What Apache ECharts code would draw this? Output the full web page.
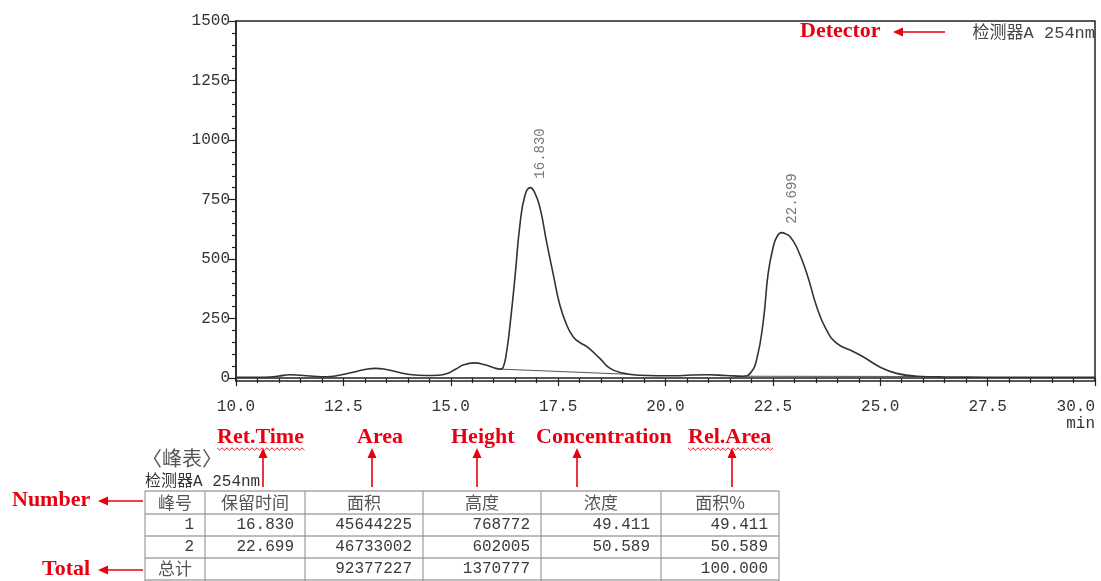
<!DOCTYPE html>
<html>
<head>
<meta charset="utf-8">
<script src="https://cdn.jsdelivr.net/npm/echarts@6/dist/echarts.min.js"></script>
<style>
html, body { margin: 0; padding: 0; background: #fff; }
#chart { width: 1101px; height: 581px; }
</style>
</head>
<body>
<div id="chart"></div>
<script>
// chromatogram trace (min, signal)
const traceTime = [10.0, 10.5, 10.8, 11.0, 11.25, 11.5, 11.8, 12.1, 12.4, 12.7, 13.0, 13.25, 13.5, 13.8, 14.1, 14.4, 14.7, 14.9, 15.1, 15.3, 15.55, 15.8, 16.0, 16.15, 16.22, 16.3, 16.38, 16.5, 16.61, 16.73, 16.85, 16.96, 17.08, 17.23, 17.39, 17.54, 17.7, 17.85, 18.0, 18.17, 18.47, 18.71, 19.0, 19.4, 19.8, 20.2, 20.6, 21.0, 21.4, 21.81, 21.97, 22.12, 22.28, 22.39, 22.51, 22.6, 22.7, 22.8, 22.9, 23.05, 23.29, 23.52, 23.75, 23.99, 24.3, 24.6, 24.99, 25.38, 25.85, 26.55, 27.5, 28.5, 30.0];
const traceSignal = [4, 4, 5, 9, 14, 12, 8, 6, 12, 24, 36, 41, 36, 24, 14, 11, 12, 18, 36, 56, 64, 56, 44, 38, 45, 110, 223, 433, 643, 769, 800, 777, 714, 573, 433, 307, 223, 174, 150, 132, 83, 41, 22, 12, 10, 10, 13, 14, 11, 8, 20, 76, 244, 440, 552, 596, 611, 606, 594, 552, 440, 300, 202, 146, 118, 90, 47, 20, 8, 5, 4, 4, 4];

// peaks
const peakRetTimes = [16.830, 22.699];
const peakApex = [800, 611];

// integration baselines
const baselineTimes = [[16.15, 19.3], [21.81, 25.9]];
const baselineLevels = [[38, 15], [8, 7]];

// axis ticks
const yMajorTicks = [0, 250, 500, 750, 1000, 1250, 1500];
const yMinorTicks = [50, 100, 150, 200, 300, 350, 400, 450, 550, 600, 650, 700, 800, 850, 900, 950, 1050, 1100, 1150, 1200, 1300, 1350, 1400, 1450];

// peak table
const tableHeader = ['峰号', '保留时间', '面积', '高度', '浓度', '面积%'];
const peakNo = ['1', '2'];
const retTimeCol = ['16.830', '22.699'];
const areaCol = ['45644225', '46733002'];
const heightCol = ['768772', '602005'];
const concCol = ['49.411', '50.589'];
const areaPctCol = ['49.411', '50.589'];
const totalRow = ['总计', '', '92377227', '1370777', '', '100.000'];

const RED = '#e60012';
const MONO = '"Liberation Mono", "Noto Sans CJK SC", monospace';
const CJK = '"Noto Sans CJK SC", "Liberation Mono", sans-serif';

const traceData = traceTime.map((t, i) => [t, traceSignal[i]]);
const peakData = peakRetTimes.map((t, i) => [t, peakApex[i]]);

const graphics = [];

function arrow(x1, y1, x2, y2) {
  // head at (x2, y2)
  const dx = x2 - x1, dy = y2 - y1;
  const len = Math.sqrt(dx * dx + dy * dy);
  const ux = dx / len, uy = dy / len;
  const hl = 10, hw = 4.5;
  const bx = x2 - ux * hl, by = y2 - uy * hl;
  graphics.push({
    type: 'line', silent: true,
    shape: { x1: x1, y1: y1, x2: bx, y2: by },
    style: { stroke: RED, lineWidth: 1.6 }
  });
  graphics.push({
    type: 'polygon', silent: true,
    shape: { points: [[x2, y2], [bx - uy * hw, by + ux * hw], [bx + uy * hw, by - ux * hw]] },
    style: { fill: RED }
  });
}

function redLabel(text, x, y, align) {
  graphics.push({
    type: 'text', silent: true, x: x, y: y,
    style: {
      text: text, fill: RED, font: 'bold 22px "Liberation Serif", serif',
      textAlign: align || 'left', textVerticalAlign: 'middle'
    }
  });
}

function squiggle(x1, x2, y) {
  const pts = [];
  let up = true;
  for (let x = x1; x <= x2; x += 2.5) {
    pts.push([x, y + (up ? -1.2 : 1.2)]);
    up = !up;
  }
  graphics.push({
    type: 'polyline', silent: true,
    shape: { points: pts },
    style: { stroke: RED, lineWidth: 0.9, fill: null }
  });
}

function plainText(text, x, y, font, align, color) {
  graphics.push({
    type: 'text', silent: true, x: x, y: y,
    style: {
      text: text, fill: color || '#3a3a3a', font: font,
      textAlign: align || 'left', textVerticalAlign: 'middle'
    }
  });
}

// detector label
plainText('检测器A 254nm', 1095, 33, '17px ' + MONO, 'right', '#444');
redLabel('Detector', 800, 31);
arrow(945, 32, 893, 32);

// axis unit
plainText('min', 1095, 424, '16px ' + MONO, 'right', '#333');

// peak table heading
plainText('〈峰表〉', 142, 458, '20px ' + CJK, 'left', '#555');
plainText('检测器A 254nm', 145, 482, '16px ' + MONO, 'left', '#333');

// table grid
const colX = [145, 205, 305, 423, 541, 661, 779];
const rowY = [491, 514, 536, 558, 580];
rowY.forEach((y) => {
  graphics.push({
    type: 'line', silent: true,
    shape: { x1: colX[0], y1: y, x2: colX[colX.length - 1], y2: y },
    style: { stroke: '#7a7a7a', lineWidth: 1 }
  });
});
colX.forEach((x) => {
  graphics.push({
    type: 'line', silent: true,
    shape: { x1: x, y1: rowY[0], x2: x, y2: 581 },
    style: { stroke: '#888', lineWidth: 1 }
  });
});

function rowCenter(r) { return (rowY[r] + rowY[r + 1]) / 2; }
function colCenter(c) { return (colX[c] + colX[c + 1]) / 2; }

tableHeader.forEach((h, c) => {
  plainText(h, colCenter(c), rowCenter(0), '17px ' + CJK, 'center', '#555');
});
const bodyCols = [peakNo, retTimeCol, areaCol, heightCol, concCol, areaPctCol];
for (let r = 0; r < peakNo.length; r++) {
  bodyCols.forEach((col, c) => {
    plainText(col[r], colX[c + 1] - 11, rowCenter(r + 1), '16px ' + MONO, 'right', '#3a3a3a');
  });
}
totalRow.forEach((v, c) => {
  if (!v) return;
  if (c === 0) plainText(v, colCenter(0), rowCenter(3), '17px ' + CJK, 'center', '#555');
  else plainText(v, colX[c + 1] - 11, rowCenter(3), '16px ' + MONO, 'right', '#3a3a3a');
});

// red annotations for table
redLabel('Ret.Time', 217, 437);
squiggle(217, 305, 449);
arrow(263, 487, 263, 448);
redLabel('Area', 357, 437);
arrow(372, 487, 372, 448);
redLabel('Height', 451, 437);
arrow(477, 487, 477, 448);
redLabel('Concentration', 536, 437);
arrow(577, 487, 577, 448);
redLabel('Rel.Area', 688, 437);
squiggle(688, 773, 449);
arrow(732, 487, 732, 448);
redLabel('Number', 12, 500);
arrow(143, 501, 98, 501);
redLabel('Total', 42, 569);
arrow(143, 570, 98, 570);

const baselineSeries = baselineTimes.map((ts, i) => ({
  type: 'line',
  data: [[ts[0], baselineLevels[i][0]], [ts[1], baselineLevels[i][1]]],
  symbol: 'none',
  silent: true,
  lineStyle: { color: '#555', width: 1 },
  z: 2
}));

const option = {
  animation: false,
  backgroundColor: '#fff',
  grid: {
    left: 236, right: 6, top: 21, bottom: 200,
    show: true, borderColor: '#222', borderWidth: 1.5,
    outerBoundsMode: 'none'
  },
  xAxis: {
    type: 'value',
    min: 10, max: 30, interval: 2.5,
    axisLine: { show: true, lineStyle: { color: '#222', width: 1.5 } },
    axisTick: { show: true, inside: false, length: 8, lineStyle: { color: '#222', width: 1.2 } },
    minorTick: { show: true, splitNumber: 5, length: 5, lineStyle: { color: '#222', width: 1.2 } },
    splitLine: { show: false },
    axisLabel: {
      margin: 18, color: '#333', fontSize: 16, fontFamily: MONO,
      showMinLabel: true, showMaxLabel: true,
      alignMaxLabel: 'right',
      formatter: v => v.toFixed(1)
    }
  },
  yAxis: [
    {
      type: 'value', position: 'left',
      min: -12, max: 1500,
      axisLine: { show: true, lineStyle: { color: '#222', width: 1.5 } },
      axisTick: { show: true, length: 8, customValues: yMajorTicks, lineStyle: { color: '#222', width: 1.2 } },
      splitLine: { show: false },
      axisLabel: {
        margin: 6, color: '#333', fontSize: 16, fontFamily: MONO,
        customValues: yMajorTicks,
        formatter: v => String(v)
      }
    },
    {
      type: 'value', position: 'left',
      min: -12, max: 1500,
      axisLine: { show: false },
      axisTick: { show: true, length: 4, customValues: yMinorTicks, lineStyle: { color: '#222', width: 1.2 } },
      splitLine: { show: false },
      axisLabel: { show: false }
    }
  ],
  series: [
    {
      type: 'line',
      data: traceData,
      symbol: 'none',
      smooth: 0.5,
      silent: true,
      lineStyle: { color: '#333', width: 1.6 },
      z: 3
    },
    ...baselineSeries,
    {
      type: 'scatter',
      data: peakData,
      symbolSize: 0,
      silent: true,
      label: {
        show: true,
        position: 'top',
        distance: 0,
        rotate: 90,
        align: 'left',
        verticalAlign: 'middle',
        offset: [9, 11],
        color: '#555',
        fontSize: 14,
        fontFamily: MONO,
        formatter: p => p.value[0].toFixed(3)
      }
    }
  ],
  graphic: graphics
};

const chart = echarts.init(document.getElementById('chart'));
chart.setOption(option);
</script>
</body>
</html>
